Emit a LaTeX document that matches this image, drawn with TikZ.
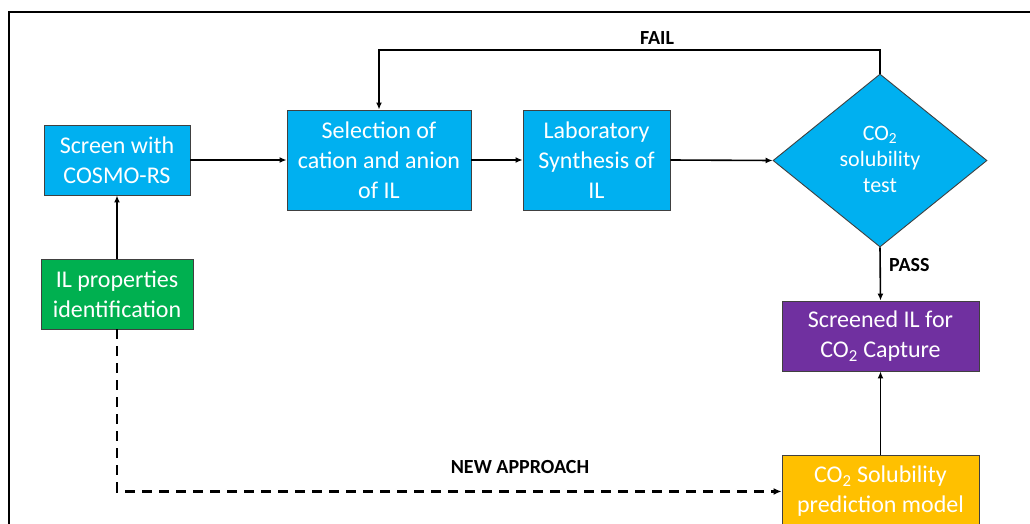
\documentclass[tikz,border=0pt]{standalone}
\usepackage{fontspec}
\setmainfont{Carlito}
\usetikzlibrary{shapes.geometric,arrows.meta}
\definecolor{cblue}{HTML}{00B0F0}
\definecolor{cgreen}{HTML}{00B050}
\definecolor{cpurple}{HTML}{7030A0}
\definecolor{cgold}{HTML}{FFC000}
\tikzset{
  box/.style={draw=black!75, line width=0.9pt, text=white, align=center, inner sep=0pt,
    font=\fontsize{24}{30}\selectfont},
  conn/.style={line width=1.6pt, -{Latex[length=7pt,width=6pt]}},
  dashconn/.style={line width=2.8pt, dash pattern=on 10pt off 7pt, -{Latex[length=8pt,width=7pt]}},
  lbl/.style={font=\fontsize{20}{24}\selectfont\bfseries, inner sep=0pt},
}
\begin{document}
\begin{tikzpicture}[x=1pt,y=-1pt]
\useasboundingbox (0,0) rectangle (1030,524);
\clip (0,0) rectangle (1030,524);
\fill[white] (0,0) rectangle (1030,524);
% outer frame
\draw[line width=1.3pt] (9,540) -- (9,12) -- (1040,12);
% boxes
\node[box, fill=cblue, minimum width=146pt, minimum height=70pt] (screen) at (117,160) {Screen with\\COSMO-RS};
\node[box, fill=cblue, minimum width=184pt, minimum height=100pt] (sel) at (379,160) {Selection of\\cation and anion\\of IL};
\node[box, fill=cblue, minimum width=147pt, minimum height=100pt] (lab) at (596.5,160) {Laboratory\\Synthesis of\\IL};
\node[diamond, draw=black!75, line width=0.9pt, fill=cblue, minimum width=214pt, minimum height=173pt, inner sep=0pt] (dia) at (880,160.5) {};
\node[text=white, align=center, inner sep=0pt, font=\fontsize{22}{26}\selectfont] (diatext) at ([yshift=1.5pt]dia.center) {CO\textsubscript{2}\\solubility\\test};
\node[box, fill=cgreen, minimum width=152pt, minimum height=70pt] (prop) at (117,294) {IL properties\\identification};
\node[box, fill=cpurple, minimum width=197pt, minimum height=70pt] (scr) at (880.5,336) {Screened IL for\\CO\textsubscript{2} Capture};
\node[box, fill=cgold, minimum width=197pt, minimum height=72pt, anchor=north] (pred) at (880.5,455) {CO\textsubscript{2} Solubility\\prediction model};
% connectors
\draw[conn] (screen.east) -- (sel.west);
\draw[conn] (sel.east) -- (lab.west);
\draw[conn] (lab.east) -- (dia.west);
\draw[conn] (prop.north) -- (screen.south);
\draw[conn] (dia.north) -- (dia.north |- 0,50) -| (sel.north);
\draw[conn] (dia.south) -- (scr.north);
\draw[conn] (pred.north) -- (scr.south);
\draw[dashconn] (prop.south) |- (pred.west);
% labels
\node[lbl] (fail) at (657,38) {FAIL};
\node[lbl, anchor=west] (pass) at (889,265) {PASS};
\node[lbl] (newap) at (520,467) {NEW APPROACH};
\end{tikzpicture}
\end{document}
